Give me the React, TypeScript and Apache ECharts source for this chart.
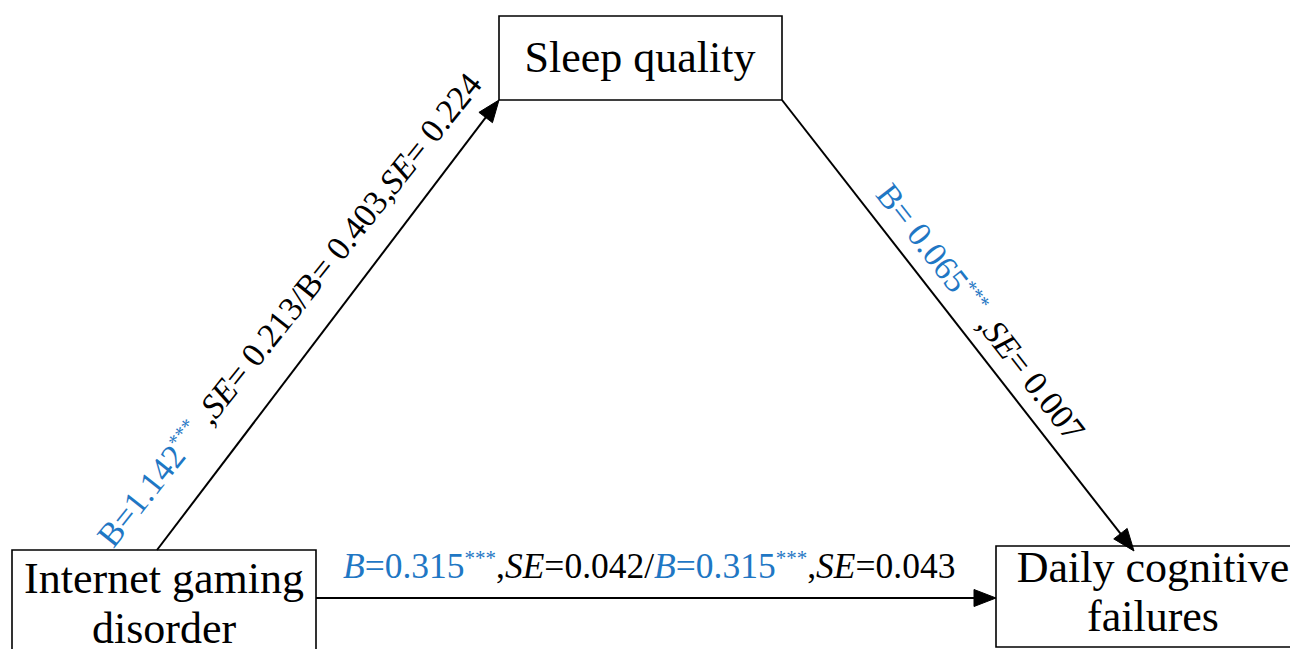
import React, { useEffect, useRef } from "react";
import * as echarts from "echarts";

// ---- data ----
const nodeNames = ["Internet gaming\ndisorder", "Sleep quality", "Daily cognitive\nfailures"];
const pathA_B = ["1.142", "0.403"]; // IGD -> Sleep quality
const pathA_SE = ["0.213", "0.224"];
const pathA_sig = ["***", ""];
const pathB_B = ["0.065"]; // Sleep quality -> DCF
const pathB_SE = ["0.007"];
const pathB_sig = ["***"];
const pathC_B = ["0.315", "0.315"]; // IGD -> DCF (total / direct)
const pathC_SE = ["0.042", "0.043"];
const pathC_sig = ["***", "***"];

const BLUE = "#1F77C4";
const FONT = "'Liberation Serif', 'Times New Roman', serif";

function buildGraphic() {
  const els: any[] = [];
  // layout
  const boxes = [
    { x: 12, y: 550, w: 304, h: 130, tx: 164, ty: 603, lh: 50 },
    { x: 499, y: 16, w: 283, h: 84, tx: 640, ty: 57, lh: 50 },
    { x: 996, y: 546, w: 320, h: 101, tx: 1153, ty: 592, lh: 49 },
  ];
  boxes.forEach((b, i) => {
    els.push({
      type: "rect",
      shape: { x: b.x, y: b.y, width: b.w, height: b.h },
      style: { fill: "#fff", stroke: "#000", lineWidth: 1.6 },
      z: 1,
    });
    els.push({
      type: "text",
      x: b.tx,
      y: b.ty,
      z: 2,
      style: {
        text: nodeNames[i],
        fontFamily: FONT,
        fontSize: 44,
        lineHeight: b.lh,
        fill: "#000",
        align: "center",
        verticalAlign: "middle",
      },
    });
  });

  const mkRich = (fs: number) => ({
    b: { fontFamily: FONT, fontSize: fs, fill: BLUE, lineHeight: fs + 2 },
    bi: { fontFamily: FONT, fontSize: fs, fill: BLUE, fontStyle: "italic", lineHeight: fs + 2 },
    bs: { fontFamily: FONT, fontSize: Math.round(fs * 0.58), fill: BLUE, verticalAlign: "top", lineHeight: Math.round(fs * 0.6) },
    k: { fontFamily: FONT, fontSize: fs, fill: "#000", lineHeight: fs + 2 },
    ki: { fontFamily: FONT, fontSize: fs, fill: "#000", fontStyle: "italic", lineHeight: fs + 2 },
  });

  const arrows = [
    {
      from: [157, 550], to: [499, 100], t: 0.48, d: 40, rotAdj: -1.3, fs: 34,
      text:
        `{b|B=${pathA_B[0]}}{bs|${pathA_sig[0]}}{k| ,}{ki|SE}{k|= ${pathA_SE[0]}/B= ${pathA_B[1]},}{ki|SE}{k|= ${pathA_SE[1]}}`,
    },
    {
      from: [782, 100], to: [1134, 551], t: 0.506, d: 26, rotAdj: 0, fs: 34,
      text: `{b|B= ${pathB_B[0]}}{bs|${pathB_sig[0]}}{k| ,}{ki|SE}{k|= ${pathB_SE[0]}}`,
    },
    {
      from: [316, 598], to: [996, 598], t: 0.49, d: 32, rotAdj: 0, fs: 35.5,
      text:
        `{bi|B}{b|=${pathC_B[0]}}{bs|${pathC_sig[0]}}{k|,}{ki|SE}{k|=${pathC_SE[0]}/}{bi|B}{b|=${pathC_B[1]}}{bs|${pathC_sig[1]}}{k|,}{ki|SE}{k|=${pathC_SE[1]}}`,
    },
  ];

  const headLen = 22;
  const headHalf = 8.5;
  arrows.forEach((a) => {
    const [x1, y1] = a.from;
    const [x2, y2] = a.to;
    const dx = x2 - x1, dy = y2 - y1;
    const len = Math.hypot(dx, dy);
    const ux = dx / len, uy = dy / len;
    const nx = uy, ny = -ux;
    const bx = x2 - ux * headLen, by = y2 - uy * headLen;
    els.push({
      type: "line",
      z: 3,
      shape: { x1, y1, x2: bx + ux * 2, y2: by + uy * 2 },
      style: { stroke: "#000", lineWidth: 2 },
    });
    els.push({
      type: "polygon",
      z: 3,
      shape: {
        points: [
          [x2, y2],
          [bx + nx * headHalf, by + ny * headHalf],
          [bx - nx * headHalf, by - ny * headHalf],
        ],
      },
      style: { fill: "#000", stroke: "#000", lineWidth: 1 },
    });
    const cx = x1 + dx * a.t + nx * a.d;
    const cy = y1 + dy * a.t + ny * a.d;
    const rot = Math.atan2(-dy, dx) + (a.rotAdj * Math.PI) / 180;
    els.push({
      type: "text",
      z: 4,
      x: cx,
      y: cy,
      rotation: rot,
      style: {
        text: a.text,
        rich: mkRich(a.fs),
        align: "center",
        verticalAlign: "middle",
        fontFamily: FONT,
        fontSize: a.fs,
      },
    });
  });
  return els;
}

export default function App() {
  const ref = useRef<HTMLDivElement>(null);
  useEffect(() => {
    if (!ref.current) return;
    const chart = echarts.init(ref.current, undefined, { renderer: "svg" });
    chart.setOption({
      animation: false,
      backgroundColor: "#ffffff",
      graphic: { elements: buildGraphic() },
    });
    return () => chart.dispose();
  }, []);
  return (
    <div
      ref={ref}
      style={{ position: "fixed", left: 0, top: 0, width: 1290, height: 649, background: "#fff" }}
    />
  );
}
